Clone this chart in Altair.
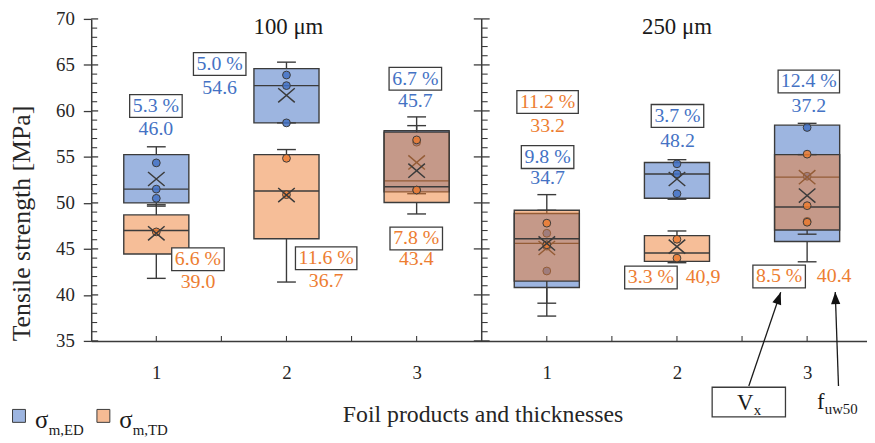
import altair as alt
import pandas as pd

# ---------------- data ----------------
positions = [0.5, 1.5, 2.5, 3.5, 4.5, 5.5]
tick_labels = ["1", "2", "3", "1", "2", "3"]
panel_titles = ["100 μm", "250 μm"]

ed_low = [49.65, 58.7, 51.0, 37.7, 50.4, 43.6]
ed_q1 = [50.0, 58.7, 51.2, 40.8, 50.5, 45.8]
ed_med = [51.5, 62.75, 52.4, 45.6, 53.15, 52.8]
ed_q3 = [55.25, 64.6, 57.85, 48.85, 54.4, 58.45]
ed_high = [56.1, 65.3, 59.35, 50.9, 54.7, 58.65]
ed_mean = [52.6, 61.7, 54.4, 45.1, 52.6, 52.8]
ed_points = [[54.35, 51.5, 50.5], [63.9, 62.75, 58.7], [56.6, 51.4],
             [46.7, 42.6, 45.3], [54.25, 53.15, 51.0], [58.2, 52.9, 48.0]]
ed_cv = ["5.3 %", "5.0 %", "6.7 %", "9.8 %", "3.7 %", "12.4 %"]
ed_f = ["46.0", "54.6", "45.7", "34.7", "48.2", "37.2"]

td_low = [41.8, 41.4, 48.8, 39.1, 43.5, 46.6]
td_q1 = [44.45, 46.1, 50.05, 41.5, 43.65, 47.05]
td_med = [47.0, 51.3, 51.75, 46.1, 44.55, 49.55]
td_q3 = [48.7, 55.25, 57.7, 49.2, 46.45, 55.25]
td_high = [49.8, 55.8, 58.4, 49.2, 46.95, 55.25]
td_mean = [46.7, 50.85, 53.5, 45.6, 45.25, 50.8]
td_points = [[46.85], [54.85, 50.9], [56.85, 51.4],
             [47.8, 45.45], [46.05, 44.0], [55.3, 49.7, 47.9]]
td_cv = ["6.6 %", "11.6 %", "7.8 %", "11.2 %", "3.3 %", "8.5 %"]
td_f = ["39.0", "36.7", "43.4", "33.2", "40,9", "40.4"]

# annotation anchors (data coordinates)
ed_cv_x = [0.497, 0.987, 2.49, 3.506, 4.504, 5.513]
ed_cv_y = [60.54, 65.1, 63.5, 54.98, 59.46, 63.2]
ed_f_y = [58.06, 62.5, 61.08, 52.66, 56.77, 60.54]
td_cv_x = [0.82, 1.805, 2.497, 3.506, 4.30, 5.285]
td_cv_y = [43.87, 43.98, 46.13, 60.97, 41.9, 42.0]
td_f_x = [0.82, 1.805, 2.497, 3.506, 4.70, 5.708]
td_f_y = [41.4, 41.54, 43.87, 58.39, 41.94, 42.04]

panel_title_x = [1.515, 4.5]
panel_title_y = [69.14, 69.14]

arrow_tail_x = [5.052, 5.741]
arrow_tail_y = [30.1, 30.1]
arrow_tip_x = [5.297, 5.716]
arrow_tip_y = [40.29, 40.32]
arrow_angle = [19, 358]

# ---------------- style ----------------
DARK = "#3b3b3b"
BLUE = "#4472C4"
ORANGE = "#ED7D31"
FONT = "Liberation Serif"

xs = alt.Scale(domain=[0, 5.96], nice=False, zero=False)
ys = alt.Scale(domain=[35, 70], nice=False, zero=False)

label_expr = "[" + ",".join(f"'{t}'" for t in tick_labels) + "][floor(datum.value)]"
AX_X = alt.Axis(
    values=positions, labelExpr=label_expr, ticks=False, tickSize=0, grid=False,
    domainColor=DARK, domainWidth=1.5, labelFont=FONT, labelFontSize=19, labelColor="#262626",
    labelPadding=23, title="Foil products and thicknesses", titleFont=FONT, titleFontSize=24,
    titleFontWeight="normal", titleColor="#262626", titleX=395, titleY=74,
    titleBaseline="middle", titleAlign="center")
AX_Y = alt.Axis(
    values=list(range(35, 71, 5)), tickSize=8, tickWidth=1.3, tickColor=DARK, grid=False,
    domainColor=DARK, domainWidth=1.5, labelFont=FONT, labelFontSize=19, labelColor="#262626",
    labelPadding=9, title="Tensile strength [MPa]", titleFont=FONT, titleFontSize=26,
    titleFontWeight="normal", titleColor="#262626", titleX=-70, titleY=206,
    titleBaseline="middle", titleAlign="center", titleAngle=270)


def XQ(f):
    return alt.X(f, type="quantitative", scale=xs, axis=AX_X)


def YQ(f):
    return alt.Y(f, type="quantitative", scale=ys, axis=AX_Y)


XPATH = "M-1,-0.85L1,0.85M-1,0.85L1,-0.85"


def rect_path(w, h):
    r = h / w
    return f"M-1,-{r:.4f}L1,-{r:.4f}L1,{r:.4f}L-1,{r:.4f}Z"


def series(color, op, low, q1, med, q3, high, mean, pts):
    df = pd.DataFrame({"c": positions, "low": low, "q1": q1, "med": med,
                       "q3": q3, "high": high, "mean": mean})
    df["x0"] = df["c"] - 0.25
    df["x1"] = df["c"] + 0.25
    pdf = pd.DataFrame([{"c": c, "v": v} for c, vals in zip(positions, pts) for v in vals])
    base = alt.Chart(df)
    box = base.mark_rect(fill=color, fillOpacity=op, stroke=DARK, strokeWidth=1.4).encode(
        x=XQ("x0"), x2=alt.X2("x1"), y=YQ("q1"), y2=alt.Y2("q3"))
    wl = base.mark_rule(color=DARK, strokeWidth=1.4).encode(x=XQ("c"), y=YQ("low"), y2=alt.Y2("q1"))
    wh = base.mark_rule(color=DARK, strokeWidth=1.4).encode(x=XQ("c"), y=YQ("q3"), y2=alt.Y2("high"))
    capl = base.mark_tick(orient="horizontal", size=19, thickness=1.4, color=DARK, opacity=1).encode(
        x=XQ("c"), y=YQ("low"))
    caph = base.mark_tick(orient="horizontal", size=19, thickness=1.4, color=DARK, opacity=1).encode(
        x=XQ("c"), y=YQ("high"))
    medl = base.mark_rule(color=DARK, strokeWidth=1.4).encode(x=XQ("x0"), x2=alt.X2("x1"), y=YQ("med"))
    pt = alt.Chart(pdf).mark_point(shape="circle", size=62, filled=True, fill=color, fillOpacity=0.85,
                                   stroke=DARK, strokeWidth=1, opacity=1).encode(x=XQ("c"), y=YQ("v"))
    mn = base.mark_point(shape=XPATH, size=280, filled=False, stroke=DARK, strokeWidth=1.5,
                         opacity=1).encode(x=XQ("c"), y=YQ("mean"))
    return [box, wl, wh, capl, caph, medl, pt, mn]


def labels(color, cv, cvx, cvy, f, fx, fy):
    d1 = pd.DataFrame({"t": cv, "x": cvx, "y": cvy})
    d1["shape"] = [rect_path(9 * len(t) + 8, 23) for t in cv]
    d1["size"] = [(9 * len(t) + 8) ** 2 for t in cv]
    boxes = alt.Chart(d1).mark_point(filled=True, fill="white", fillOpacity=1, stroke=DARK,
                                     strokeWidth=1.3, opacity=1).encode(
        x=XQ("x"), y=YQ("y"), shape=alt.Shape("shape:N", scale=None),
        size=alt.Size("size:Q", scale=None))
    t1 = alt.Chart(d1).mark_text(font=FONT, fontSize=20, color=color, baseline="middle").encode(
        x=XQ("x"), y=YQ("y"), text="t:N")
    d2 = pd.DataFrame({"t": f, "x": fx, "y": fy})
    t2 = alt.Chart(d2).mark_text(font=FONT, fontSize=20, color=color, baseline="middle").encode(
        x=XQ("x"), y=YQ("y"), text="t:N")
    return [boxes, t1, t2]


# ---------------- axes decorations ----------------
major = list(range(35, 71, 5))
minor = [v for v in range(35, 71) if v % 5 != 0]
left_major = alt.Chart(pd.DataFrame({"x": 0.0, "y": major})).mark_tick(
    orient="horizontal", size=7, thickness=1.3, color=DARK, opacity=1, xOffset=3.5).encode(x=XQ("x"), y=YQ("y"))
left_minor = alt.Chart(pd.DataFrame({"x": 0.0, "y": minor})).mark_tick(
    orient="horizontal", size=6, thickness=1.1, color=DARK, opacity=1, xOffset=3).encode(x=XQ("x"), y=YQ("y"))
mid_line = alt.Chart(pd.DataFrame({"x": [3.0]})).mark_rule(color=DARK, strokeWidth=1.5).encode(x=XQ("x"))
mid_major = alt.Chart(pd.DataFrame({"x": 3.0, "y": major})).mark_tick(
    orient="horizontal", size=16, thickness=1.3, color=DARK, opacity=1).encode(x=XQ("x"), y=YQ("y"))
mid_minor = alt.Chart(pd.DataFrame({"x": 3.0, "y": minor})).mark_tick(
    orient="horizontal", size=6, thickness=1.1, color=DARK, opacity=1, xOffset=3).encode(x=XQ("x"), y=YQ("y"))
xt = [0.5, 1.0, 1.5, 2.0, 2.5, 3.5, 4.0, 4.5, 5.0, 5.5]
bottom_ticks = alt.Chart(pd.DataFrame({"x": xt, "y": 35.0})).mark_tick(
    orient="vertical", size=5, thickness=1.1, color=DARK, opacity=1, yOffset=-2.5).encode(x=XQ("x"), y=YQ("y"))

titles = alt.Chart(pd.DataFrame({"t": panel_titles, "x": panel_title_x, "y": panel_title_y})).mark_text(
    font=FONT, fontSize=23, color="#1a1a1a", baseline="middle").encode(x=XQ("x"), y=YQ("y"), text="t:N")

# ---------------- annotations ----------------
arrows = alt.Chart(pd.DataFrame({"x": arrow_tail_x, "y": arrow_tail_y, "x2": arrow_tip_x, "y2": arrow_tip_y})
                   ).mark_rule(color="#1a1a1a", strokeWidth=1.3).encode(
    x=XQ("x"), y=YQ("y"), x2=alt.X2("x2"), y2=alt.Y2("y2"))
heads = alt.Chart(pd.DataFrame({"x": arrow_tip_x, "y": arrow_tip_y, "a": arrow_angle})).mark_point(
    shape="M0,0L0.38,1L-0.38,1Z", size=600, filled=True, fill="#111111", opacity=1, strokeWidth=0).encode(
    x=XQ("x"), y=YQ("y"), angle=alt.Angle("a:Q", scale=None))
vx_box = alt.Chart(pd.DataFrame({"x": [5.052], "y": [28.35]})).mark_point(
    shape=rect_path(74, 30), size=74 ** 2, filled=True, fill="white", stroke=DARK, strokeWidth=1.3,
    opacity=1).encode(x=XQ("x"), y=YQ("y"))
ann_main = alt.Chart(pd.DataFrame({"t": ["V", "f"], "x": [5.025, 5.605], "y": [27.5, 27.56]})).mark_text(
    font=FONT, fontSize=23, color="#1a1a1a", baseline="alphabetic").encode(x=XQ("x"), y=YQ("y"), text="t:N")
ann_sub = alt.Chart(pd.DataFrame({"t": ["x", "uw50"], "x": [5.09, 5.635], "y": [26.9, 27.02]})).mark_text(
    font=FONT, fontSize=15, color="#1a1a1a", baseline="alphabetic", align="left").encode(
    x=XQ("x"), y=YQ("y"), text="t:N")

# ---------------- legend ----------------
leg_sq = alt.Chart(pd.DataFrame({"x": [-0.555, 0.0935], "y": [26.85, 26.85], "c": [BLUE, ORANGE]})).mark_point(
    shape="square", size=170, filled=True, fillOpacity=0.52, stroke=DARK, strokeWidth=1, opacity=1).encode(
    x=XQ("x"), y=YQ("y"), fill=alt.Fill("c:N", scale=None))
leg_sig = alt.Chart(pd.DataFrame({"t": ["σ", "σ"], "x": [-0.431, 0.215], "y": [25.5, 25.5]})).mark_text(
    font=FONT, fontSize=25, color="#1a1a1a", baseline="alphabetic", align="left").encode(
    x=XQ("x"), y=YQ("y"), text="t:N")
leg_sub = alt.Chart(pd.DataFrame({"t": ["m,ED", "m,TD"], "x": [-0.327, 0.319], "y": [24.75, 24.75]})).mark_text(
    font=FONT, fontSize=15, color="#1a1a1a", baseline="alphabetic", align="left").encode(
    x=XQ("x"), y=YQ("y"), text="t:N")

layers = ([mid_line]
          + series(BLUE, 0.52, ed_low, ed_q1, ed_med, ed_q3, ed_high, ed_mean, ed_points)
          + series(ORANGE, 0.5, td_low, td_q1, td_med, td_q3, td_high, td_mean, td_points)
          + [left_major, left_minor, mid_major, mid_minor, bottom_ticks, titles]
          + labels(BLUE, ed_cv, ed_cv_x, ed_cv_y, ed_f, ed_cv_x, ed_f_y)
          + labels(ORANGE, td_cv, td_cv_x, td_cv_y, td_f, td_f_x, td_f_y)
          + [arrows, heads, vx_box, ann_main, ann_sub, leg_sq, leg_sig, leg_sub])

chart = alt.layer(*layers).properties(
    width=783, height=325,
    autosize=alt.AutoSizeParams(type="none"),
    padding={"left": 84, "top": 9, "right": 0, "bottom": 99},
    background="white",
).configure_view(stroke=None)

chart.save("out.html", embed_options={"renderer": "svg", "actions": False})
